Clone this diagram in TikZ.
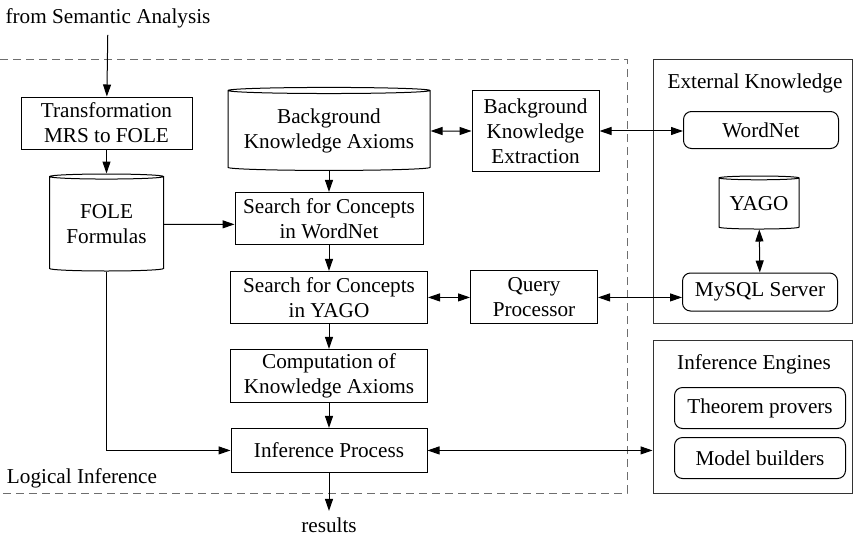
\documentclass[tikz,border=0pt]{standalone}
\usepackage{fontspec}
\setmainfont{Liberation Serif}
\usetikzlibrary{arrows.meta,positioning,shapes.geometric}
\definecolor{FlowFrame}{HTML}{333333}
\definecolor{FlowDash}{HTML}{6E6E6E}

\begin{document}
\begin{tikzpicture}[
  x=0.5pt, y=-0.5pt,
  font=\fontsize{10.6}{12.5}\selectfont,
  line width=0.5pt,
  box/.style={draw, align=center, inner sep=2pt},
  store/.style={draw, cylinder, shape border rotate=90, shape aspect=#1, align=center, inner sep=1pt},
  tool/.style={draw, rounded corners=4pt, align=center, minimum width=77.5pt},
  frame/.style={draw=FlowFrame, minimum width=99.5pt},
  arrow/.style={-{Triangle[length=6pt,width=4pt]}},
  both/.style={{Triangle[length=6pt,width=4pt]}-{Triangle[length=6pt,width=4pt]}}
]
\useasboundingbox (0,0) rectangle (862,541);

% logical inference part
\draw[FlowDash, dash pattern=on 4pt off 2.5pt] (-5,59) rectangle (627,493);
\node (logic) at (82,478) {Logical Inference};

\node (from) at (108,18) {from Semantic Analysis};
\node[box, minimum width=85.5pt, minimum height=26pt] (trans) at (106.5,123) {Transformation\\MRS to FOLE};
\node[store=0.06, minimum width=57pt, minimum height=48.5pt, below=12pt of trans] (fole) {FOLE\\Formulas};

\node[store=0.035, minimum width=101pt, minimum height=41.5pt] (bka) at (329,131) {Background\\Knowledge Axioms};
\node[box, minimum width=94pt, minimum height=26pt, below=10.5pt of bka] (wnsearch) {Search for Concepts\\in WordNet};
\node[box, minimum width=98.5pt, minimum height=26pt, below=13pt of wnsearch] (yagosearch) {Search for Concepts\\in YAGO};
\node[box, minimum width=98.5pt, minimum height=26.5pt, below=12.5pt of yagosearch] (comp) {Computation of\\Knowledge Axioms};
\node[box, minimum width=98pt, minimum height=22pt, below=12.5pt of comp] (infer) {Inference Process};
\node[below=19pt of infer] (results) {results};

\node[box, minimum width=63.5pt, minimum height=40pt, right=20.5pt of bka] (bke) {Background\\Knowledge\\Extraction};
\node[box, minimum width=63.5pt, minimum height=26.5pt, right=21pt of yagosearch] (query) {Query\\Processor};

% external knowledge
\node[frame, minimum height=132pt] (extbox) at (752.5,191) {};
\node (extlabel) at (755,83) {External Knowledge};
\node[tool, minimum height=18.5pt] (wordnet) at (761,130) {WordNet};
\node[store=0.06, minimum width=40pt, minimum height=26.5pt] (yago) at (759,204) {YAGO};
\node[tool, minimum height=19pt] (mysql) at (760,292) {MySQL Server};

% inference engines
\node[frame, minimum height=76.5pt] (engbox) at (752.5,416.5) {};
\node (englabel) at (754,364) {Inference Engines};
\node[tool, minimum width=85.5pt, minimum height=20.5pt] (provers) at (760,408) {Theorem provers};
\node[tool, minimum width=85.5pt, minimum height=20.5pt, below=4pt of provers] (builders) {Model builders};

\draw[arrow] (from) -- (trans);
\draw[arrow] (trans) -- (fole);
\draw[arrow] (fole) -- (fole -| wnsearch.west);
\draw[arrow] (bka) -- (wnsearch);
\draw[arrow] (wnsearch) -- (yagosearch);
\draw[arrow] (yagosearch) -- (comp);
\draw[arrow] (comp) -- (infer);
\draw[arrow] (fole) |- (infer);
\draw[arrow] (infer) -- (results);
\draw[both] (bka) -- (bka -| bke.west);
\draw[both] (bke) -- (bke -| wordnet.west);
\draw[both] (yagosearch) -- (yagosearch -| query.west);
\draw[both] (query) -- (query -| mysql.west);
\draw[both] (yago) -- (mysql);
\draw[both] (infer) -- (infer -| engbox.west);
\end{tikzpicture}
\end{document}
